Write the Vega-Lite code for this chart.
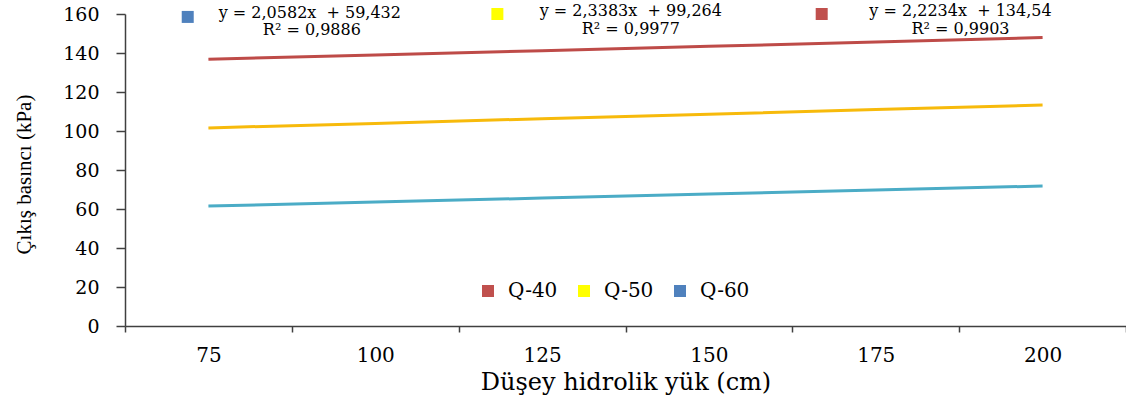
{
  "$schema": "https://vega.github.io/schema/vega-lite/v6.json",
  "width": 1001,
  "height": 312,
  "autosize": {"type": "none"},
  "padding": {"left": 125, "top": 14, "right": 0, "bottom": 77},
  "background": "white",
  "config": {
    "font": "DejaVu Serif",
    "view": {"stroke": null},
    "legend": {"labelFont": "DejaVu Serif", "labelFontSize": 21, "labelColor": "#000"},
    "axisY": {
      "tickCount": 8, "labelOverlap": false,
      "titleFont": "Liberation Serif", "titleFontSize": 21, "titleFontWeight": "normal",
      "titleColor": "#000", "titleBaseline": "middle", "titleX": -101, "titleY": 160,
      "labelFont": "DejaVu Serif", "labelFontSize": 19, "labelColor": "#000",
      "labelPadding": 17, "tickSize": 9, "tickColor": "#404040", "tickWidth": 1.5,
      "domainColor": "#404040", "domainWidth": 1.5, "grid": false
    }
  },
  "datasets": {
    "main": [
      {"yuk": 75, "seri": "Q-40", "basinc": 136.8},
      {"yuk": 100, "seri": "Q-40", "basinc": 139.0},
      {"yuk": 125, "seri": "Q-40", "basinc": 141.2},
      {"yuk": 150, "seri": "Q-40", "basinc": 143.4},
      {"yuk": 175, "seri": "Q-40", "basinc": 145.7},
      {"yuk": 200, "seri": "Q-40", "basinc": 147.9},
      {"yuk": 75, "seri": "Q-50", "basinc": 101.6},
      {"yuk": 100, "seri": "Q-50", "basinc": 103.9},
      {"yuk": 125, "seri": "Q-50", "basinc": 106.3},
      {"yuk": 150, "seri": "Q-50", "basinc": 108.6},
      {"yuk": 175, "seri": "Q-50", "basinc": 111.0},
      {"yuk": 200, "seri": "Q-50", "basinc": 113.3},
      {"yuk": 75, "seri": "Q-60", "basinc": 61.5},
      {"yuk": 100, "seri": "Q-60", "basinc": 63.6},
      {"yuk": 125, "seri": "Q-60", "basinc": 65.6},
      {"yuk": 150, "seri": "Q-60", "basinc": 67.7},
      {"yuk": 175, "seri": "Q-60", "basinc": 69.7},
      {"yuk": 200, "seri": "Q-60", "basinc": 71.8}
    ],
    "notes": [
      {"ax": 90.2, "basinc": 160.6, "label": "y = 2,0582x\u00a0\u00a0+ 59,432"},
      {"ax": 90.5, "basinc": 151.6, "label": "R² = 0,9886"},
      {"ax": 138.3, "basinc": 161.3, "label": "y = 2,3383x\u00a0\u00a0+ 99,264"},
      {"ax": 138.3, "basinc": 152.3, "label": "R² = 0,9977"},
      {"ax": 187.7, "basinc": 161.3, "label": "y = 2,2234x\u00a0\u00a0+ 134,54"},
      {"ax": 187.7, "basinc": 152.3, "label": "R² = 0,9903"}
    ],
    "squares": [
      {"ax": 71.9, "basinc": 158.5, "grup": "Q-60"},
      {"ax": 118.3, "basinc": 160.0, "grup": "Q-50"},
      {"ax": 166.9, "basinc": 160.0, "grup": "Q-40"}
    ]
  },
  "layer": [
    {
      "data": {"name": "main"},
      "mark": {"type": "line", "strokeWidth": 3},
      "encoding": {
        "x": {
          "field": "yuk", "type": "ordinal",
          "scale": {"type": "band", "paddingInner": 0, "paddingOuter": 0},
          "axis": {
            "title": "Düşey hidrolik yük (cm)",
            "titleFont": "DejaVu Serif", "titleFontSize": 24, "titleFontWeight": "normal",
            "titleColor": "#000", "titleBaseline": "middle", "titleY": 56,
            "labelFont": "DejaVu Serif", "labelFontSize": 20, "labelColor": "#000",
            "labelAngle": 0, "labelPadding": 13,
            "tickBand": "extent", "tickSize": 6, "tickColor": "#404040", "tickWidth": 1.5,
            "domainColor": "#404040", "domainWidth": 1.5, "grid": false
          }
        },
        "y": {
          "field": "basinc", "type": "quantitative", "title": "Çıkış basıncı (kPa)",
          "scale": {"domain": [0, 160], "nice": false}
        },
        "stroke": {
          "field": "seri", "type": "nominal",
          "scale": {"domain": ["Q-60", "Q-50", "Q-40"], "range": ["#4BACC6", "#F7BA0B", "#BE4B48"]},
          "legend": null
        }
      }
    },
    {
      "data": {"name": "notes"},
      "mark": {"type": "text", "font": "DejaVu Serif", "fontSize": 16, "color": "#000", "align": "center", "baseline": "middle"},
      "encoding": {
        "x": {"field": "ax", "type": "quantitative", "scale": {"domain": [62.5, 212.5], "nice": false, "zero": false}, "axis": null},
        "y": {"field": "basinc", "type": "quantitative", "title": "Çıkış basıncı (kPa)", "scale": {"domain": [0, 160], "nice": false}},
        "text": {"field": "label"}
      }
    },
    {
      "data": {"name": "squares"},
      "mark": {"type": "point", "shape": "square", "filled": true, "size": 144, "opacity": 1},
      "encoding": {
        "x": {"field": "ax", "type": "quantitative", "scale": {"domain": [62.5, 212.5], "nice": false, "zero": false}, "axis": null},
        "y": {"field": "basinc", "type": "quantitative", "title": "Çıkış basıncı (kPa)", "scale": {"domain": [0, 160], "nice": false}},
        "color": {
          "field": "grup", "type": "nominal",
          "scale": {"domain": ["Q-40", "Q-50", "Q-60"], "range": ["#C0504D", "#FFFF00", "#4F81BD"]},
          "legend": {
            "orient": "none", "legendX": 353, "legendY": 267, "direction": "horizontal",
            "title": null, "padding": 0, "symbolType": "square", "symbolSize": 144,
            "symbolOpacity": 1, "symbolStrokeWidth": 0,
            "labelFont": "DejaVu Serif", "labelFontSize": 20, "labelColor": "#000",
            "labelOffset": 10, "columnPadding": 16
          }
        }
      }
    }
  ],
  "resolve": {"scale": {"x": "independent"}}
}
